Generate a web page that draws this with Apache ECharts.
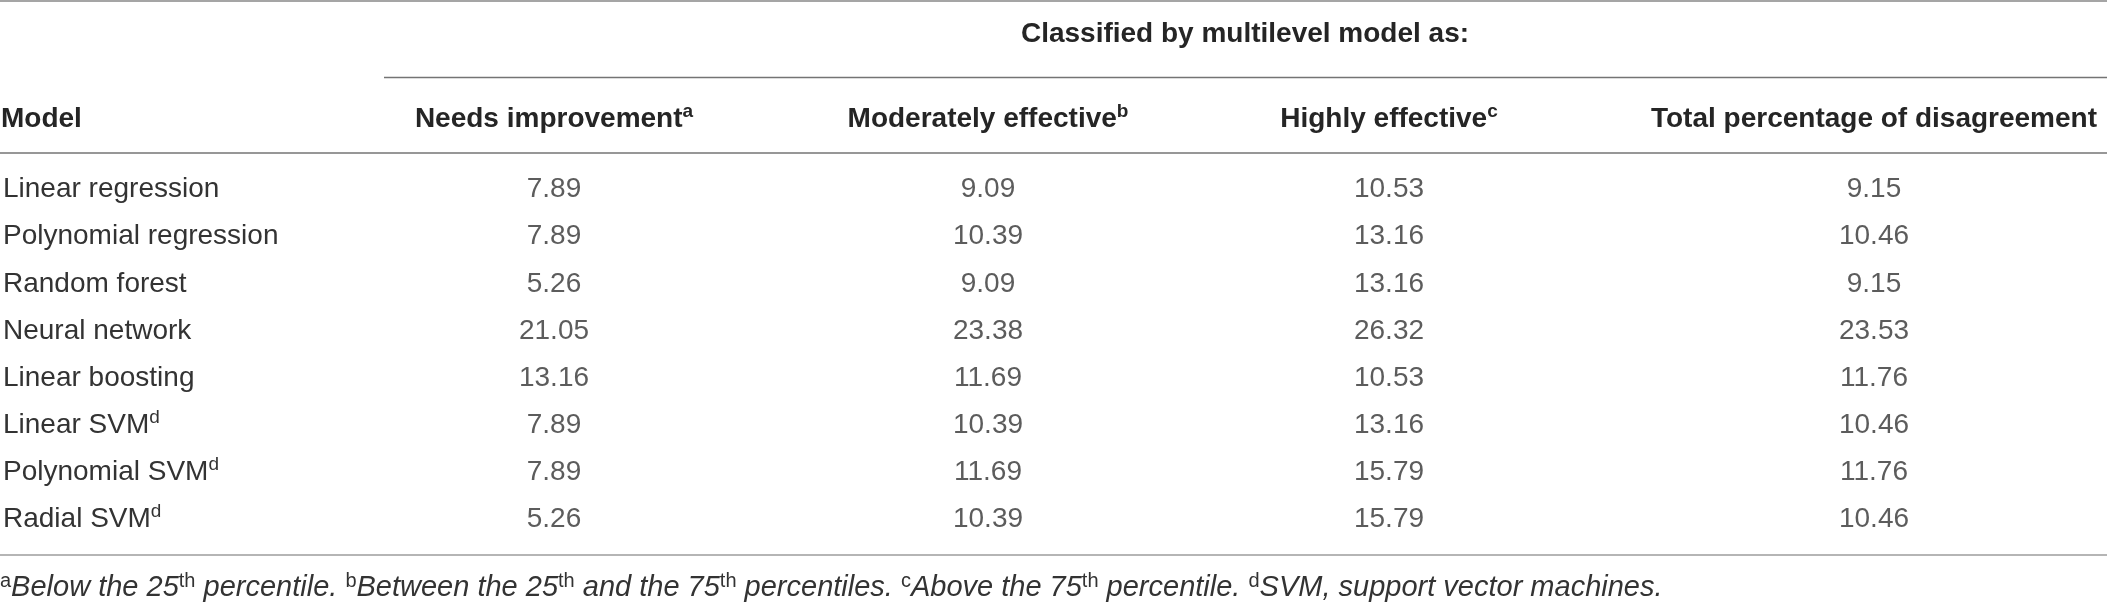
<!DOCTYPE html>
<html>
<head>
<meta charset="utf-8">
<script src="https://cdn.jsdelivr.net/npm/echarts@6/dist/echarts.min.js"></script>
<style>
  html, body { margin: 0; padding: 0; background: #fff; }
  #main { width: 2107px; height: 605px; }
</style>
</head>
<body>
<div id="main"></div>
<script>
// table data
var models = ['Linear regression', 'Polynomial regression', 'Random forest', 'Neural network',
    'Linear boosting', 'Linear SVM', 'Polynomial SVM', 'Radial SVM'];
var modelNotes = ['', '', '', '', '', 'd', 'd', 'd'];

var columnNames = ['Needs improvement', 'Moderately effective', 'Highly effective', 'Total percentage of disagreement'];
var columnNotes = ['a', 'b', 'c', ''];

var needsImprovement = [7.89, 7.89, 5.26, 21.05, 13.16, 7.89, 7.89, 5.26];
var moderatelyEffective = [9.09, 10.39, 9.09, 23.38, 11.69, 10.39, 11.69, 10.39];
var highlyEffective = [10.53, 13.16, 13.16, 26.32, 10.53, 13.16, 15.79, 15.79];
var totalDisagreement = [9.15, 10.46, 9.15, 23.53, 11.76, 10.46, 11.76, 10.46];

var columns = [needsImprovement, moderatelyEffective, highlyEffective, totalDisagreement];

// layout
var FONT = '"Liberation Sans", Arial, Helvetica, sans-serif';
var HEAD = '#252525';
var TEXT = '#333333';
var colCenters = [553, 988, 1389, 1874];
var colWidth = 360;
var gridTop = 166, gridHeight = 377;
var headerY = 119;
var SUP = 19, LH = 34;

var myChart = echarts.init(document.getElementById('main'), null, { renderer: 'canvas' });

var grids = [], xAxes = [], yAxes = [], series = [];

columns.forEach(function (col, i) {
    var left = colCenters[i] - colWidth / 2;
    grids.push({ left: left, top: gridTop, width: colWidth, height: gridHeight });

    xAxes.push({
        type: 'category',
        gridIndex: i,
        position: 'top',
        data: [columnNames[i]],
        axisLine: { show: false },
        axisTick: { show: false },
        splitLine: { show: false },
        axisLabel: {
            interval: 0,
            margin: gridTop - headerY,
            verticalAlign: 'middle',
            formatter: function (v) {
                return '{h|' + v + '}' + (columnNotes[i] ? '{s|' + columnNotes[i] + '}' : '');
            },
            rich: {
                h: { fontFamily: FONT, fontSize: 28, fontWeight: 'bold', color: HEAD, lineHeight: LH },
                s: { fontFamily: FONT, fontSize: SUP, fontWeight: 'bold', color: HEAD, lineHeight: LH, verticalAlign: 'top' }
            }
        }
    });

    yAxes.push({
        type: 'category',
        gridIndex: i,
        inverse: true,
        data: models,
        axisLine: { show: false },
        axisTick: { show: false },
        splitLine: { show: false },
        axisLabel: i === 0 ? {
            align: 'left',
            margin: left - 1,
            formatter: function (v, idx) {
                return '{n|' + v + '}' + (modelNotes[idx] ? '{s|' + modelNotes[idx] + '}' : '');
            },
            rich: {
                n: { fontFamily: FONT, fontSize: 28, color: TEXT, lineHeight: LH },
                s: { fontFamily: FONT, fontSize: SUP, color: TEXT, lineHeight: LH, verticalAlign: 'top' }
            }
        } : { show: false }
    });

    series.push({
        type: 'scatter',
        xAxisIndex: i,
        yAxisIndex: i,
        symbolSize: 1,
        silent: true,
        itemStyle: { color: 'rgba(0,0,0,0)' },
        data: col.map(function (v, k) { return [0, k, v]; }),
        label: {
            show: true,
            position: 'inside',
            formatter: function (p) { return p.value[2].toFixed(2); },
            fontFamily: FONT,
            fontSize: 28,
            color: TEXT
        }
    });
});

var footRich = {
    s: { fontFamily: FONT, fontSize: SUP + 1, fill: TEXT, lineHeight: LH, verticalAlign: 'top' },
    i: { fontFamily: FONT, fontSize: 29, fontStyle: 'italic', fill: TEXT, lineHeight: LH }
};

var option = {
    animation: false,
    backgroundColor: '#fff',
    grid: grids,
    xAxis: xAxes,
    yAxis: yAxes,
    series: series,
    graphic: [
        // rules
        { type: 'line', shape: { x1: 0, y1: 1, x2: 2107, y2: 1 }, style: { stroke: '#a5a5a5', lineWidth: 2 } },
        { type: 'line', shape: { x1: 384, y1: 77.5, x2: 2107, y2: 77.5 }, style: { stroke: '#747474', lineWidth: 1.5 } },
        { type: 'line', shape: { x1: 0, y1: 153, x2: 2107, y2: 153 }, style: { stroke: '#747474', lineWidth: 1.5 } },
        { type: 'line', shape: { x1: 0, y1: 555, x2: 2107, y2: 555 }, style: { stroke: '#b5b5b5', lineWidth: 2 } },
        // header texts
        {
            type: 'text', x: 1245, y: 34,
            style: { text: 'Classified by multilevel model as:', font: 'bold 28px ' + FONT, fill: HEAD,
                textAlign: 'center', textVerticalAlign: 'middle' }
        },
        {
            type: 'text', x: 1, y: headerY,
            style: { text: 'Model', font: 'bold 28px ' + FONT, fill: HEAD, textAlign: 'left', textVerticalAlign: 'middle' }
        },
        // footnote
        {
            type: 'text', x: 0, y: 588,
            style: {
                text: '{s|a}{i|Below the 25}{s|th}{i| percentile. }{s|b}{i|Between the 25}{s|th}{i| and the 75}{s|th}' +
                    '{i| percentiles. }{s|c}{i|Above the 75}{s|th}{i| percentile. }{s|d}{i|SVM, support vector machines.}',
                rich: footRich,
                font: '28px ' + FONT,
                fill: TEXT,
                textAlign: 'left',
                textVerticalAlign: 'middle'
            }
        }
    ]
};

myChart.setOption(option);
</script>
</body>
</html>
